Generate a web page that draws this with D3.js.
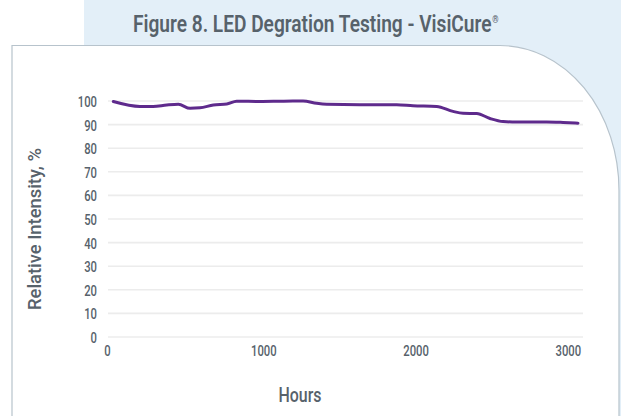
<!DOCTYPE html>
<html>
<head>
<meta charset="utf-8">
<script src="https://cdn.jsdelivr.net/npm/d3@7/dist/d3.min.js"></script>
<style>
  html, body { margin: 0; padding: 0; background: #fff; }
  svg text { font-family: Roboto, "Noto Sans", sans-serif; fill: #57626b; }
</style>
</head>
<body>
<div id="chart"></div>
<script>
// data
const hours = [15, 190, 276, 366, 442, 519, 584, 672, 760, 825, 978, 1100, 1195, 1261, 1351, 1417,
  1635, 1876, 1983, 2139, 2246, 2312, 2402, 2489, 2575, 2665, 2862, 2969, 3067];
const intensity = [99.8, 97.7, 97.7, 98.3, 98.6, 96.9, 97.1, 98.3, 98.7, 99.9, 99.8, 99.9, 100, 100, 99.0, 98.6,
  98.4, 98.4, 98.0, 97.7, 95.6, 94.8, 94.7, 92.6, 91.3, 91.1, 91.1, 90.9, 90.6];
const yTicks = [0, 10, 20, 30, 40, 50, 60, 70, 80, 90, 100];
const xTicks = [0, 1000, 2000, 3000];
const title = "Figure 8. LED Degration Testing - VisiCure";

const W = 621, H = 416;
const svg = d3.select("#chart").append("svg")
    .attr("width", W)
    .attr("height", H);

// light blue panel behind the card
svg.append("rect")
    .attr("x", 84).attr("y", 0)
    .attr("width", W - 84).attr("height", H)
    .attr("fill", "#e3eff8");

// white card with the big rounded top-right corner
svg.append("path")
    .attr("d", "M12,45.5 H500 A119,145 0 0 1 619,190.5 V430 H12 Z")
    .attr("fill", "#fff")
    .attr("stroke", "#b7c3cc")
    .attr("stroke-width", 1.2);

// title, squeezed horizontally to look condensed
const t = svg.append("text")
    .attr("font-size", 24)
    .attr("font-weight", 600);
t.append("tspan").text(title);
t.append("tspan")
    .attr("font-size", 10)
    .attr("dx", 1)
    .attr("dy", -9)
    .text("®");
const natural = t.node().getComputedTextLength();
t.attr("transform", `translate(133,32) scale(${365 / natural},1)`);

// scales
const x = d3.scaleLinear().domain([-20, 3100]).range([108, 583]);
const y = d3.scaleLinear().domain([0, 100]).range([337, 101]);

// gridlines
svg.append("g").selectAll("line")
    .data(yTicks)
    .join("line")
    .attr("x1", 108).attr("x2", 583)
    .attr("y1", d => y(d)).attr("y2", d => y(d))
    .attr("stroke", "#ececec")
    .attr("stroke-width", 1.6);

// y axis labels
const yAxis = svg.append("g")
    .attr("transform", "translate(97,0)")
    .call(d3.axisLeft(y).tickValues(yTicks).tickSize(0).tickPadding(0));
yAxis.select(".domain").remove();
yAxis.selectAll("text")
    .attr("font-size", 15)
    .attr("font-weight", 500)
    .attr("textLength", d => String(d).length * 6.4)
    .attr("lengthAdjust", "spacingAndGlyphs")
    .attr("dy", "0.36em");

// x axis labels
const xAxis = svg.append("g")
    .attr("transform", "translate(0,345)")
    .call(d3.axisBottom(x).tickValues(xTicks).tickFormat(d3.format("d")).tickSize(0).tickPadding(0));
xAxis.select(".domain").remove();
xAxis.selectAll("text")
    .attr("font-size", 15)
    .attr("font-weight", 500)
    .attr("textLength", d => String(d).length * 6.4)
    .attr("lengthAdjust", "spacingAndGlyphs")
    .attr("dx", d => d === 0 ? -4 : 0)
    .attr("dy", "0.71em");

// axis titles
svg.append("text")
    .attr("x", 300).attr("y", 402)
    .attr("text-anchor", "middle")
    .attr("font-size", 20)
    .attr("font-weight", 500)
    .attr("textLength", 43)
    .attr("lengthAdjust", "spacingAndGlyphs")
    .text("Hours");

svg.append("text")
    .attr("transform", "translate(41,229) rotate(-90)")
    .attr("text-anchor", "middle")
    .attr("font-size", 18)
    .attr("font-weight", 500)
    .attr("textLength", 162)
    .attr("lengthAdjust", "spacingAndGlyphs")
    .text("Relative Intensity, %");

// the line
const line = d3.line()
    .x((d, i) => x(hours[i]))
    .y(d => y(d))
    .curve(d3.curveMonotoneX);

svg.append("path")
    .datum(intensity)
    .attr("d", line)
    .attr("fill", "none")
    .attr("stroke", "#5e2a8c")
    .attr("stroke-width", 3)
    .attr("stroke-linecap", "round")
    .attr("stroke-linejoin", "round");
</script>
</body>
</html>
